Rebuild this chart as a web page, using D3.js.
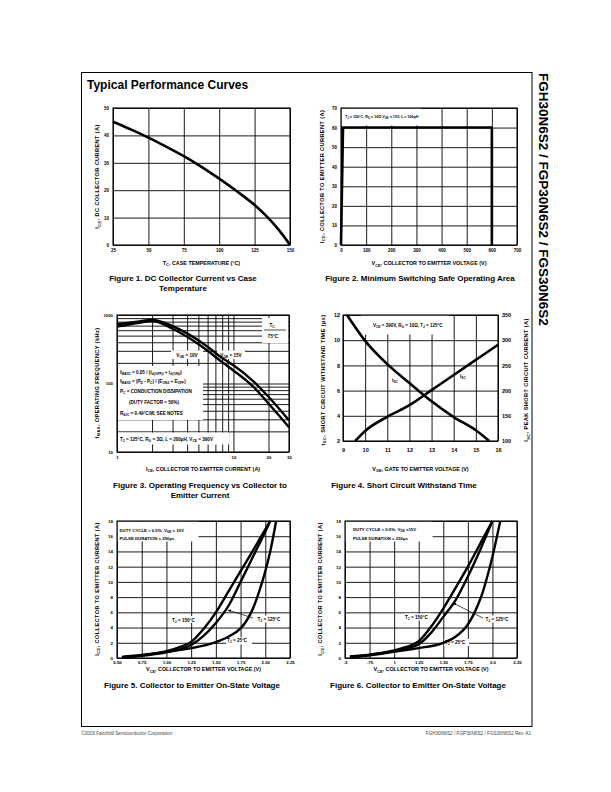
<!DOCTYPE html>
<html lang="en">
<head>
<meta charset="UTF-8"/>
<title>Typical Performance Curves</title>
<script src="https://d3js.org/d3.v7.min.js"></script>
<style>
body { margin: 0; background: #fff; }
svg { display: block; font-family: "Liberation Sans", Arial, Helvetica, sans-serif; }
</style>
</head>
<body>
<script>
var W = 611, H = 792;

// Figure 1 - DC collector current vs case temperature [Tc, Ice]
var fig1Curve = [[25, 45], [37.5, 42.2], [50, 39.2], [62.5, 35.9], [75, 32.4], [87.5, 28.5], [100, 24.2],
    [112.5, 19.6], [125, 14.6], [132.5, 11], [140, 6.8], [145, 3.6], [150, 0]];
var fig1XTicks = [25, 50, 75, 100, 125, 150];
var fig1YTicks = [0, 10, 20, 30, 40, 50];

// Figure 2 - switching SOA [Vce, Ice]
var fig2Curve = [[0, 0], [8, 60], [600, 60], [600, 0]];
var fig2XTicks = [0, 100, 200, 300, 400, 500, 600, 700];
var fig2YTicks = [0, 10, 20, 30, 40, 50, 60, 70];

// Figure 3 - operating frequency [Ice, fmax]
var fig3Vge15 = [[1, 730], [1.5, 800], [2, 850], [3, 690], [4, 540], [6, 345], [8, 235], [10, 185], [15, 106], [20, 64], [30, 29]];
var fig3Vge10 = [[1, 675], [1.5, 760], [2, 815], [3, 630], [4, 480], [6, 300], [8, 205], [10, 155], [15, 88], [20, 51], [30, 23]];
var fig3XGrid = [1, 2, 3, 4, 5, 6, 7, 8, 9, 10, 20, 30];
var fig3YGrid = [10, 20, 30, 40, 50, 60, 70, 80, 90, 100, 200, 300, 400, 500, 600, 700, 800, 900, 1000];
var fig3XLabels = [1, 10, 20, 30];
var fig3YLabels = [10, 100, 1000];

// Figure 4 - short circuit withstand time [Vge, tsc] and current [Vge, Isc]
var fig4Tsc = [[9.18, 12], [10, 9.95], [11, 8.1], [12, 6.6], [13, 5.15], [14, 3.9], [15, 2.85], [15.6, 2]];
var fig4Isc = [[9.55, 100], [10, 120], [11, 148], [12, 171], [13, 201], [14, 231], [15, 261], [16, 291]];
var fig4XTicks = [9, 10, 11, 12, 13, 14, 15, 16];
var fig4YTicks = [2, 4, 6, 8, 10, 12];
var fig4Y2Ticks = [100, 150, 200, 250, 300, 350];

// Figure 5 - on-state voltage, Vge = 10V [Vce, Ice]
var fig5T150 = [[0.55, 0.1], [0.75, 0.35], [1.0, 0.9], [1.125, 1.4], [1.25, 2.1], [1.375, 3.8], [1.5, 6.0],
    [1.625, 8.7], [1.75, 11.4], [1.875, 14.1], [2.0, 16.9], [2.05, 18]];
var fig5T125 = [[0.55, 0.1], [0.75, 0.3], [1.0, 0.75], [1.125, 1.1], [1.25, 1.7], [1.375, 2.9], [1.5, 4.6],
    [1.625, 6.8], [1.75, 10.0], [1.875, 13.3], [2.0, 16.6], [2.05, 18]];
var fig5T25 = [[0.55, 0.15], [0.75, 0.4], [1.0, 0.8], [1.25, 1.3], [1.5, 2.1], [1.625, 2.8], [1.75, 3.9],
    [1.8, 4.7], [1.85, 5.8], [1.9, 7.3], [1.95, 9.2], [2.0, 11.4], [2.05, 14.0], [2.11, 18]];
var fig5XTicks = [0.5, 0.75, 1.0, 1.25, 1.5, 1.75, 2.0, 2.25];
var fig5XLabels = ["0.50", "0.75", "1.00", "1.25", "1.50", "1.75", "2.00", "2.25"];
var fig5YTicks = [0, 2, 4, 6, 8, 10, 12, 14, 16, 18];

// Figure 6 - on-state voltage, Vge = 15V [Vce, Ice]
var fig6T150 = [[0.55, 0.15], [0.75, 0.4], [1.0, 1.0], [1.125, 1.45], [1.25, 2.2], [1.375, 4.1], [1.5, 6.5],
    [1.625, 9.2], [1.75, 12.0], [1.875, 15.0], [2.0, 18]];
var fig6T125 = [[0.55, 0.12], [0.75, 0.35], [1.0, 0.85], [1.125, 1.2], [1.25, 1.8], [1.375, 3.3], [1.5, 5.4],
    [1.625, 7.6], [1.75, 10.7], [1.875, 14.2], [2.0, 18]];
var fig6T25 = [[0.55, 0.2], [0.75, 0.45], [1.0, 0.85], [1.25, 1.3], [1.5, 2.0], [1.625, 2.8], [1.75, 4.4],
    [1.8, 5.5], [1.85, 6.9], [1.9, 8.6], [1.95, 10.8], [2.0, 13.3], [2.05, 16.2], [2.08, 18]];
var fig6XLabels = [".5", ".75", "1", "1.25", "1.50", "1.75", "2.0", "2.25"];

var svg = d3.select("body").append("svg").attr("width", W).attr("height", H);

svg.append("defs").append("marker")
    .attr("id", "arr").attr("viewBox", "0 0 10 10").attr("refX", 9).attr("refY", 5)
    .attr("markerWidth", 5).attr("markerHeight", 5).attr("orient", "auto")
    .append("path").attr("d", "M0,1 L10,5 L0,9 Z").attr("fill", "#000");

// text with _{sub} and ^{sup} parts
function rich(t, s) {
    var fs = +t.attr("font-size"), re = /([_^])\{([^}]*)\}/g, last = 0, cur = 0, m;
    function part(str, off, small) {
        var sp = t.append("tspan").text(str);
        if (off !== cur) sp.attr("dy", off - cur);
        if (small) sp.attr("font-size", fs * 0.72);
        cur = off;
    }
    while ((m = re.exec(s)) !== null) {
        if (m.index > last) part(s.slice(last, m.index), 0, false);
        part(m[2], m[1] === "_" ? fs * 0.3 : -fs * 0.4, true);
        last = re.lastIndex;
    }
    if (last < s.length) part(s.slice(last), 0, false);
}

function label(x, y, s, o) {
    o = o || {};
    var t = svg.append("text").attr("x", x).attr("y", y)
        .attr("font-size", o.size || 4.5)
        .attr("font-weight", o.weight || "bold")
        .attr("text-anchor", o.anchor || "start")
        .attr("fill", o.fill || "#000");
    if (o.rotate) t.attr("transform", "rotate(" + o.rotate + "," + x + "," + y + ")");
    if (o.ls) t.attr("letter-spacing", o.ls);
    rich(t, s);
    return t;
}

function wbox(x, y, w, h) {
    svg.append("rect").attr("x", x).attr("y", y).attr("width", w).attr("height", h).attr("fill", "#fff");
}

// grid lines + tick labels from d3 axes
function grid(x, y, xTicks, yTicks, xFmt, yFmt, fs, pad) {
    var x0 = x.range()[0], x1 = x.range()[1], y0 = y.range()[0], y1 = y.range()[1];
    var gx = svg.append("g").attr("transform", "translate(0," + y0 + ")")
        .call(d3.axisBottom(x).tickValues(xTicks).tickSize(-(y0 - y1)).tickPadding(pad[0]).tickFormat(xFmt));
    var gy = svg.append("g").attr("transform", "translate(" + x0 + ",0)")
        .call(d3.axisLeft(y).tickValues(yTicks).tickSize(-(x1 - x0)).tickPadding(pad[1]).tickFormat(yFmt));
    [gx, gy].forEach(function (g) {
        g.attr("font-family", null).attr("font-size", fs).attr("font-weight", "bold");
        g.select(".domain").remove();
        g.selectAll(".tick line").attr("stroke", "#000").attr("stroke-width", 0.9);
        g.selectAll(".tick text").attr("fill", "#000");
    });
}

function frame(x, y) {
    var x0 = x.range()[0], x1 = x.range()[1], y0 = y.range()[0], y1 = y.range()[1];
    svg.append("rect").attr("x", x0).attr("y", y1).attr("width", x1 - x0).attr("height", y0 - y1)
        .attr("fill", "none").attr("stroke", "#000").attr("stroke-width", 1.1);
}

function curve(x, y, data, smooth, w) {
    var line = d3.line()
        .x(function (d) { return x(d[0]); })
        .y(function (d) { return y(d[1]); })
        .curve(smooth ? d3.curveMonotoneX : d3.curveLinear);
    svg.append("path").datum(data).attr("d", line)
        .attr("fill", "none").attr("stroke", "#000").attr("stroke-width", w || 2.5)
        .attr("stroke-linejoin", "round");
}

function arrow(x1, y1, x2, y2) {
    svg.append("line").attr("x1", x1).attr("y1", y1).attr("x2", x2).attr("y2", y2)
        .attr("stroke", "#000").attr("stroke-width", 0.7).attr("marker-end", "url(#arr)");
}

function caption(x, y, lines) {
    lines.forEach(function (s, i) {
        label(x, y + i * 10, s, { size: 8, anchor: "middle" });
    });
}

function ytitle(cx, cy, s) {
    label(cx + 2, cy, s, { size: 5.6, anchor: "middle", rotate: -90, ls: 0.4 });
}

function xtitle(x, y, s) {
    var r = x.range();
    label((r[0] + r[1]) / 2, y, s, { size: 5.4, anchor: "middle" });
}

var plain = function (d) { return d; };

// page frame, headings, footer
svg.append("rect").attr("x", 81.5).attr("y", 72.5).attr("width", 450.5).attr("height", 654)
    .attr("fill", "none").attr("stroke", "#000").attr("stroke-width", 1);
label(87, 89, "Typical Performance Curves", { size: 12 });
label(539, 73, "FGH30N6S2  /  FGP30N6S2  /  FGS30N6S2", { size: 13.5, rotate: 90 });
label(81, 735, "©2003 Fairchild Semiconductor Corporation", { size: 4.7, weight: "normal", fill: "#444" });
label(531, 735, "FGH30N6S2 / FGP30N6S2 / FGS30N6S2 Rev. A1", { size: 4.7, weight: "normal", fill: "#444", anchor: "end" });

// ---------- Figure 1 ----------
var x1s = d3.scaleLinear().domain([25, 150]).range([113, 290]);
var y1s = d3.scaleLinear().domain([0, 50]).range([245, 108]);
grid(x1s, y1s, fig1XTicks, fig1YTicks, plain, plain, 4.5, [4, 4]);
frame(x1s, y1s);
curve(x1s, y1s, fig1Curve, true, 2.6);
ytitle(97, 176.5, "I_{CE}, DC COLLECTOR CURRENT (A)");
xtitle(x1s, 264.5, "T_{C}, CASE TEMPERATURE (°C)");
caption(183, 281, ["Figure 1.  DC Collector Current vs Case", "Temperature"]);

// ---------- Figure 2 ----------
var x2s = d3.scaleLinear().domain([0, 700]).range([341, 517]);
var y2s = d3.scaleLinear().domain([0, 70]).range([245, 108]);
grid(x2s, y2s, fig2XTicks, fig2YTicks, plain, plain, 4.5, [4, 4]);
wbox(341.5, 108.5, 80, 17);
frame(x2s, y2s);
curve(x2s, y2s, fig2Curve, false, 2.6);
label(345, 117.5, "T_{J} = 150°C, R_{G} = 10Ω V_{GE} = 15V, L = 100µH", { size: 3.7 });
ytitle(321.5, 176.5, "I_{CE}, COLLECTOR TO EMITTER CURRENT (A)");
xtitle(x2s, 265, "V_{CE}, COLLECTOR TO EMITTER VOLTAGE (V)");
caption(420, 280.5, ["Figure 2.  Minimum Switching Safe Operating Area"]);

// ---------- Figure 3 ----------
var x3s = d3.scaleLog().domain([1, 30]).range([117, 289]);
var y3s = d3.scaleLog().domain([10, 1000]).range([452, 315]);
grid(x3s, y3s, fig3XGrid, fig3YGrid,
    function (d) { return fig3XLabels.indexOf(d) >= 0 ? d : ""; },
    function (d) { return fig3YLabels.indexOf(d) >= 0 ? d : ""; }, 4.3, [4, 4]);
wbox(262, 318, 26.5, 25);
wbox(171, 350.5, 32, 8.5);
wbox(217, 350.5, 28, 8.5);
wbox(118, 366, 85, 54);
wbox(118, 432.5, 111, 12);
frame(x3s, y3s);
curve(x3s, y3s, fig3Vge15, true, 2.4);
curve(x3s, y3s, fig3Vge10, true, 2.4);
label(272, 326.5, "T_{C}", { size: 4.6, anchor: "middle" });
svg.append("line").attr("x1", 264).attr("x2", 286).attr("y1", 330).attr("y2", 330).attr("stroke", "#000").attr("stroke-width", 0.7);
label(273, 338, "75°C", { size: 4.6, anchor: "middle" });
label(187, 357, "V_{GE} = 10V", { size: 4.6, anchor: "middle" });
label(231, 357, "V_{GE} = 15V", { size: 4.6, anchor: "middle" });
label(120, 373.5, "f_{MAX1} = 0.05 / (t_{d(OFF)I} + t_{d(ON)I})", { size: 4.6 });
label(120, 382.5, "f_{MAX2} = (P_{D} - P_{C}) / (E_{ON2} + E_{OFF})", { size: 4.6 });
label(120, 392.5, "P_{C} = CONDUCTION DISSIPATION", { size: 4.6 });
label(129, 403.5, "(DUTY FACTOR = 50%)", { size: 4.6 });
label(120, 414.5, "R_{θJC} = 0.49°C/W, SEE NOTES", { size: 4.6 });
label(120, 440.5, "T_{J} = 125°C, R_{G} = 3Ω, L = 200µH, V_{CE} = 390V", { size: 4.6 });
ytitle(96.5, 383, "f_{MAX}, OPERATING FREQUENCY (kHz)");
xtitle(x3s, 470.5, "I_{CE}, COLLECTOR TO EMITTER CURRENT (A)");
caption(200, 487.5, ["Figure 3.  Operating Frequency vs Collector to", "Emitter Current"]);

// ---------- Figure 4 ----------
var x4s = d3.scaleLinear().domain([9, 16]).range([343, 498]);
var y4s = d3.scaleLinear().domain([2, 12]).range([441, 315]);
var y4r = d3.scaleLinear().domain([100, 350]).range([441, 315]);
grid(x4s, y4s, fig4XTicks, fig4YTicks, plain, plain, 5.5, [7, 3]);
var gr = svg.append("g").attr("transform", "translate(498,0)")
    .call(d3.axisRight(y4r).tickValues(fig4Y2Ticks).tickSize(0).tickPadding(4));
gr.attr("font-family", null).attr("font-size", 5.5).attr("font-weight", "bold");
gr.select(".domain").remove();
gr.selectAll(".tick text").attr("fill", "#000");
wbox(361, 315.5, 88, 19);
frame(x4s, y4s);
curve(x4s, y4s, fig4Tsc, true, 2.6);
curve(x4s, y4r, fig4Isc, true, 2.6);
label(373, 326.5, "V_{CE} = 390V, R_{G} = 10Ω, T_{J} = 125°C", { size: 4.5 });
label(392, 381.5, "t_{SC}", { size: 4.6 });
label(460, 378, "I_{SC}", { size: 4.6 });
ytitle(322.5, 380, "t_{SC}, SHORT CIRCUIT WITHSTAND TIME (µs)");
ytitle(526, 380, "I_{SC}, PEAK SHORT CIRCUIT CURRENT (A)");
xtitle(x4s, 470.5, "V_{GE}, GATE TO EMITTER VOLTAGE (V)");
caption(404, 488, ["Figure 4.  Short Circuit Withstand Time"]);

// ---------- Figure 5 ----------
var x5s = d3.scaleLinear().domain([0.5, 2.25]).range([117, 290]);
var y5s = d3.scaleLinear().domain([0, 18]).range([658, 521]);
grid(x5s, y5s, fig5XTicks, fig5YTicks, function (d, i) { return fig5XLabels[i]; }, plain, 4.4, [3, 4]);
wbox(117.5, 521.5, 81, 20);
wbox(171, 616, 26, 7);
wbox(256, 615.5, 28, 7);
wbox(226, 637.5, 26, 7);
frame(x5s, y5s);
curve(x5s, y5s, fig5T150, true, 2.4);
curve(x5s, y5s, fig5T125, true, 2.4);
curve(x5s, y5s, fig5T25, true, 2.4);
label(119.5, 531.5, "DUTY CYCLE < 0.5%, V_{GE} = 10V", { size: 4.3 });
label(119.5, 539.5, "PULSE DURATION = 250µs", { size: 4.3 });
label(172, 621.7, "T_{J} = 150°C", { size: 4.6 });
label(257.5, 621, "T_{J} = 125°C", { size: 4.6 });
arrow(253, 618, 228, 610);
label(227, 642, "T_{J} = 25°C", { size: 4.6 });
ytitle(96.5, 589, "I_{CE}, COLLECTOR TO EMITTER CURRENT (A)");
xtitle(x5s, 671, "V_{CE}, COLLECTOR TO EMITTER VOLTAGE (V)");
caption(192, 688, ["Figure 5.  Collector to Emitter On-State Voltage"]);

// ---------- Figure 6 ----------
var x6s = d3.scaleLinear().domain([0.5, 2.25]).range([345, 517]);
var y6s = d3.scaleLinear().domain([0, 18]).range([658, 521]);
grid(x6s, y6s, fig5XTicks, fig5YTicks, function (d, i) { return fig6XLabels[i]; }, plain, 4.4, [3, 4]);
wbox(345.5, 521.5, 87, 20);
wbox(404, 613.5, 29, 7);
wbox(484, 615.5, 29, 7);
wbox(444, 639, 25, 7);
frame(x6s, y6s);
curve(x6s, y6s, fig6T150, true, 2.4);
curve(x6s, y6s, fig6T125, true, 2.4);
curve(x6s, y6s, fig6T25, true, 2.4);
label(353, 531, "DUTY CYCLE < 0.5%, V_{GE} =15V", { size: 4.3 });
label(353, 539.5, "PULSE DURATION = 250µs", { size: 4.3 });
label(405, 619, "T_{J} = 150°C", { size: 4.6 });
label(485.5, 621, "T_{J} = 125°C", { size: 4.6 });
arrow(483, 618, 453, 603);
label(445, 643.5, "T_{J} = 25°C", { size: 4.6 });
ytitle(320, 589, "I_{CE}, COLLECTOR TO EMITTER CURRENT (A)");
xtitle(x6s, 671, "V_{CE}, COLLECTOR TO EMITTER VOLTAGE (V)");
caption(418, 688, ["Figure 6.  Collector to Emitter On-State Voltage"]);
</script>
</body>
</html>
